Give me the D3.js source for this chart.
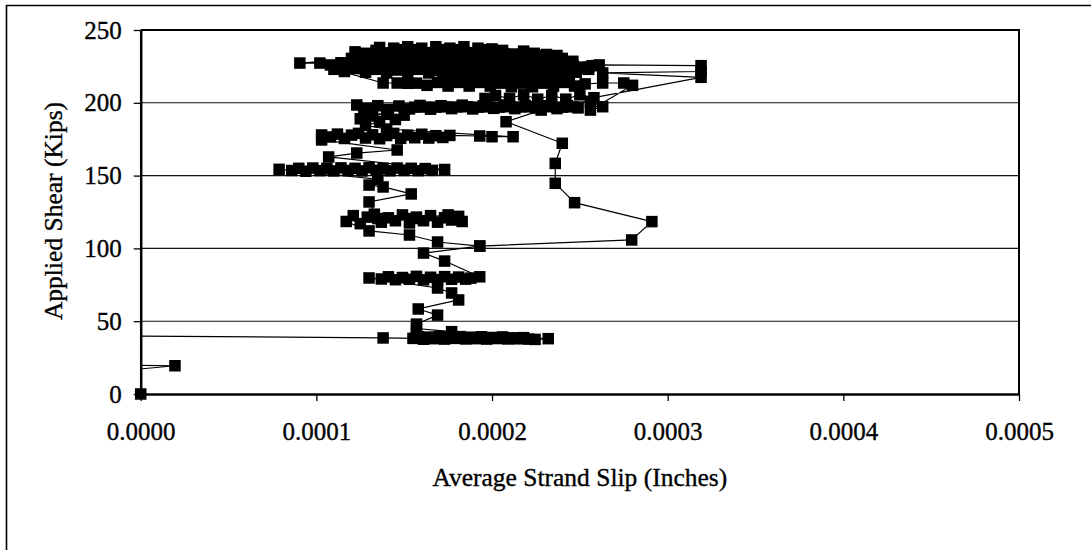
<!DOCTYPE html>
<html><head><meta charset="utf-8">
<script src="https://cdn.jsdelivr.net/npm/d3@7"></script>
<style>
body{margin:0;background:#fff}
svg{display:block}
text{font-family:"Liberation Serif","Times New Roman",serif;fill:#000;stroke:#000;stroke-width:0.35px}
</style>
</head><body>
<svg id="c" width="1091" height="550"></svg>
<script>
// ---- axis definitions ----
const xTicks=[0,0.0001,0.0002,0.0003,0.0004,0.0005];
const yTicks=[0,50,100,150,200,250];
const xTitle="Average Strand Slip (Inches)";
const yTitle="Applied Shear (Kips)";

// ---- data: [average strand slip (in), applied shear (kips)], in test order ----
const start=[[0,0],[-0.2e-4,15],[0.195e-4,19.4],[-0.2e-4,19.8],[-0.2e-4,40],[1.38e-4,38.5]];
const hold38=[[1.55e-4,38.2],[1.58e-4,39.4],[1.61e-4,37.6],[1.64e-4,39.1],[1.67e-4,38.0],[1.70e-4,39.5],[1.73e-4,37.7],[1.76e-4,38.9],[1.79e-4,38.2],[1.82e-4,39.4],[1.85e-4,37.8],[1.88e-4,39.0],[1.91e-4,38.0],[1.94e-4,39.3],[1.97e-4,37.7],[2.00e-4,38.8],[2.03e-4,38.1],[2.06e-4,39.2],[2.09e-4,37.8],[2.12e-4,38.6],[2.15e-4,37.9],[2.18e-4,38.7],[2.21e-4,37.7],[2.245e-4,37.5],[2.32e-4,38.0]];
const rise40=[[1.57e-4,41.5],[1.77e-4,42.8],[1.57e-4,45],[1.57e-4,48],[1.69e-4,54.2],[1.58e-4,58.4],[1.81e-4,64.6],[1.77e-4,69.4],[1.69e-4,72.8]];
const hold79=[[1.30e-4,79.7],[1.37e-4,79],[1.41e-4,80.5],[1.45e-4,78.5],[1.49e-4,80],[1.53e-4,78.8],[1.57e-4,80.8],[1.61e-4,78.4],[1.65e-4,80.2],[1.69e-4,78.6],[1.73e-4,80.6],[1.77e-4,78.8],[1.81e-4,80.3],[1.85e-4,78.9],[1.88e-4,79.6],[1.93e-4,80.5]];
const rise90=[[1.73e-4,91.3],[1.61e-4,96.8],[1.93e-4,101.6],[1.69e-4,104.4],[1.53e-4,109.2],[1.30e-4,112]];
const hold120=[[1.17e-4,118.5],[1.21e-4,122.5],[1.25e-4,117],[1.29e-4,121.5],[1.33e-4,123.5],[1.37e-4,118],[1.41e-4,121],[1.45e-4,119],[1.49e-4,123],[1.53e-4,117.5],[1.57e-4,121.5],[1.61e-4,119],[1.65e-4,122.5],[1.69e-4,118],[1.73e-4,121],[1.77e-4,119.5],[1.81e-4,122],[1.83e-4,118.5],[1.75e-4,123],[1.55e-4,120.5],[1.35e-4,120.5]];
const rise130=[[1.30e-4,131.9],[1.54e-4,137.4],[1.38e-4,142.2],[1.30e-4,143.5],[1.35e-4,147.5]];
const hold153=[[0.788e-4,154.3],[0.86e-4,153.5],[0.90e-4,155],[0.94e-4,153],[0.98e-4,155.2],[1.02e-4,153.4],[1.06e-4,155],[1.10e-4,153.2],[1.14e-4,155.3],[1.18e-4,153.5],[1.22e-4,155],[1.26e-4,153.2],[1.30e-4,155.4],[1.34e-4,153.6],[1.38e-4,155],[1.42e-4,153.3],[1.46e-4,155.2],[1.50e-4,153.5],[1.54e-4,155],[1.58e-4,153.4],[1.62e-4,154.8],[1.66e-4,153.6],[1.73e-4,154.2]];
const rise163=[[1.07e-4,162.8],[1.23e-4,165.5],[1.46e-4,167.6],[1.03e-4,174.5],[1.03e-4,177.9]];
const hold176=[[1.08e-4,176.5],[1.12e-4,178.5],[1.16e-4,175.5],[1.20e-4,177.8],[1.24e-4,179],[1.28e-4,175.8],[1.32e-4,178],[1.36e-4,175.3],[1.40e-4,177.5],[1.44e-4,179],[1.48e-4,175.6],[1.52e-4,177.8],[1.56e-4,176],[1.60e-4,178.4],[1.64e-4,175.8],[1.68e-4,177.4],[1.72e-4,176.2],[1.76e-4,177.6],[1.93e-4,177.2],[2.00e-4,176.7],[2.12e-4,176.7]];
const rise185=[[1.40e-4,182],[1.28e-4,184.5],[1.36e-4,187],[1.25e-4,189],[1.45e-4,188.5],[1.32e-4,191],[1.40e-4,192.5],[1.50e-4,191.5],[1.27e-4,193]];
const hold197=[[1.23e-4,198.5],[1.29e-4,196],[1.35e-4,198],[1.41e-4,195.5],[1.47e-4,197.8],[1.53e-4,195.8],[1.59e-4,198.2],[1.65e-4,195.6],[1.71e-4,198],[1.77e-4,196],[1.83e-4,198.4],[1.89e-4,195.8],[1.95e-4,198],[2.01e-4,196.2],[2.07e-4,198.5],[2.13e-4,196],[2.19e-4,198.2],[2.25e-4,196.4],[2.31e-4,198],[2.37e-4,196],[2.43e-4,198],[2.49e-4,196.5],[2.46e-4,197.2],[2.40e-4,197],[2.34e-4,197.3],[2.28e-4,197],[2.22e-4,197.2],[2.16e-4,197.1],[2.10e-4,197.3],[2.04e-4,197],[1.98e-4,197.2],[1.92e-4,197],[1.86e-4,197.3],[1.80e-4,197.1],[1.74e-4,197.2],[1.68e-4,197],[1.62e-4,197.1],[1.56e-4,197],[2.56e-4,200.8],[2.63e-4,197.3],[2.56e-4,195]];
const hold213=[[2.80e-4,212],[2.75e-4,213.6],[2.63e-4,213.6],[2.53e-4,213],[2.47e-4,211.5],[2.41e-4,214],[2.35e-4,211.5],[2.29e-4,213.5],[2.23e-4,211],[2.17e-4,213.5],[2.11e-4,211],[2.05e-4,213.5],[1.99e-4,211.5],[1.93e-4,214],[1.87e-4,211.5],[1.81e-4,214],[1.75e-4,211.5],[1.69e-4,214],[1.63e-4,212],[1.57e-4,213.5],[1.52e-4,213.4],[1.46e-4,213.6],[1.38e-4,213.6]];
const passE=[[1.10e-4,223],[1.16e-4,221.5],[1.22e-4,223.5],[1.28e-4,221],[1.34e-4,223],[1.40e-4,220.5],[1.46e-4,222.5],[1.52e-4,221],[1.58e-4,223],[1.64e-4,220.5],[1.70e-4,222.5],[1.76e-4,221],[1.82e-4,223],[1.88e-4,220.5],[1.94e-4,222.5],[2.00e-4,220.5],[2.06e-4,222.5],[2.12e-4,220.5],[2.18e-4,222],[2.24e-4,220.5],[2.30e-4,222],[2.36e-4,220.5],[2.42e-4,222.5],[2.48e-4,221],[2.55e-4,223]];
const passF=[[2.44e-4,218],[2.38e-4,216.5],[2.32e-4,218.5],[2.26e-4,217],[2.20e-4,218.5],[2.14e-4,216.5],[2.08e-4,218],[2.02e-4,216.5],[1.96e-4,218],[1.90e-4,217],[1.84e-4,218.5],[1.78e-4,217.5],[1.72e-4,218.5]];
const passG=[[1.11e-4,224.5],[1.17e-4,223.8],[1.23e-4,224.6],[1.29e-4,224],[1.35e-4,224.8],[1.41e-4,224],[1.47e-4,224.6],[1.53e-4,223.8],[1.59e-4,224.7],[1.65e-4,224],[1.71e-4,224.6],[1.77e-4,223.9],[1.83e-4,224.8],[1.89e-4,224],[1.95e-4,224.5],[2.01e-4,223.8],[2.07e-4,224.6],[2.13e-4,224],[2.19e-4,224.5],[2.25e-4,223.8],[2.31e-4,224.4],[2.37e-4,223.6],[2.43e-4,224.2],[2.49e-4,223.5],[2.55e-4,224.5]];
const passB=[[1.20e-4,230.5],[1.26e-4,229.5],[1.32e-4,232.5],[1.38e-4,230],[1.44e-4,232.5],[1.50e-4,229.5],[1.56e-4,232],[1.62e-4,230],[1.68e-4,232.5],[1.74e-4,229.5],[1.80e-4,232],[1.86e-4,230],[1.92e-4,232.5],[1.98e-4,229.5],[2.04e-4,232],[2.10e-4,230],[2.16e-4,232],[2.22e-4,229.5],[2.28e-4,231.5],[2.34e-4,229],[2.40e-4,230.5],[2.46e-4,228.5]];
const passH=[[2.37e-4,232.5],[2.31e-4,233.2],[2.25e-4,232.6],[2.19e-4,233.4],[2.13e-4,232.8],[2.07e-4,233.5],[2.01e-4,232.7],[1.95e-4,233.4],[1.89e-4,232.8],[1.83e-4,233.5],[1.77e-4,232.6],[1.71e-4,233.4],[1.65e-4,232.8],[1.59e-4,233.5],[1.53e-4,232.7],[1.47e-4,233.4],[1.41e-4,232.8],[1.35e-4,233.3],[1.29e-4,232.6],[1.23e-4,233]];
const passC=[[2.24e-4,234],[2.18e-4,235.5],[2.12e-4,233.5],[2.06e-4,236],[2.00e-4,234],[1.94e-4,236.5],[1.88e-4,234],[1.82e-4,236.5],[1.76e-4,234],[1.70e-4,236.5],[1.64e-4,234],[1.58e-4,236.5],[1.52e-4,234],[1.46e-4,236.5],[1.40e-4,234],[1.34e-4,236],[1.28e-4,234],[1.22e-4,235]];
const passD=[[1.36e-4,238],[1.44e-4,237.5],[1.52e-4,238.5],[1.60e-4,237.5],[1.68e-4,238.5],[1.76e-4,237.5],[1.84e-4,238.5],[1.92e-4,237.5],[2.00e-4,237]];
const passA=[[0.906e-4,227.3],[1.02e-4,227.3],[1.08e-4,226],[1.14e-4,227.5],[1.20e-4,225.5],[1.26e-4,228],[1.32e-4,226],[1.38e-4,228],[1.44e-4,225.5],[1.50e-4,228],[1.56e-4,226],[1.62e-4,228],[1.68e-4,225.5],[1.74e-4,228],[1.80e-4,226],[1.86e-4,228],[1.92e-4,225.5],[1.98e-4,227.5],[2.04e-4,226],[2.10e-4,227.5],[2.16e-4,225.5],[2.22e-4,227],[2.28e-4,225],[2.34e-4,226.5],[2.40e-4,225],[2.46e-4,226],[2.52e-4,224.5],[2.57e-4,225.5],[2.61e-4,226]];
const peak=[[3.19e-4,225.5],[3.19e-4,221.5],[2.63e-4,220.5],[3.19e-4,217.5]];
const hold204=[[2.58e-4,203.5],[2.50e-4,205.5],[2.42e-4,202.5],[2.34e-4,205],[2.26e-4,202.5],[2.18e-4,205.5],[2.10e-4,203],[2.02e-4,205],[1.96e-4,203]];
const branch=[[1.93e-4,101.6],[2.795e-4,105.8],[2.91e-4,118.4],[2.47e-4,131.4],[2.36e-4,144.7],[2.36e-4,158.4],[2.40e-4,172.2],[2.08e-4,187],[2.28e-4,195]];

const mainPath=[].concat(start,hold38,rise40,hold79,rise90,hold120,rise130,hold153,rise163,hold176,rise185,hold197,hold213,passE,passF,passG,passB,passH,passC,passD,passA,peak,hold204);
const paths=[mainPath,branch];

// ---- layout ----
const svg=d3.select("#c");
const M={l:140.7,r:1019,t:30,b:394};
const x=d3.scaleLinear().domain([0,0.0005]).range([M.l,M.r]);
const y=d3.scaleLinear().domain([0,250]).range([M.b,M.t]);

// outer frame (cropped at right/bottom)
svg.append("path").attr("d","M6.5,550V5.5H1091").attr("fill","none").attr("stroke","#000").attr("stroke-width",1.6);

// gridlines
svg.append("g").selectAll("line").data(yTicks.filter(d=>d>0&&d<250)).join("line")
  .attr("x1",M.l).attr("x2",M.r).attr("y1",d=>y(d)).attr("y2",d=>y(d))
  .attr("stroke","#111").attr("stroke-width",1.1);

// plot border top/right
svg.append("path").attr("d",`M${M.l},${M.t}H${M.r}V${M.b}`).attr("fill","none").attr("stroke","#000").attr("stroke-width",2);

// axes
const fmt=d3.format(".4f");
const gx=svg.append("g").attr("transform",`translate(0,${M.b})`)
  .call(d3.axisBottom(x).tickValues(xTicks).tickFormat(fmt).tickSize(7).tickSizeOuter(0).tickPadding(21));
const gy=svg.append("g").attr("transform",`translate(${M.l},0)`)
  .call(d3.axisLeft(y).tickValues(yTicks).tickSize(7).tickSizeOuter(0).tickPadding(12));
[gx,gy].forEach(g=>{
  g.select(".domain").attr("stroke","#000").attr("stroke-width",2.5);
  g.selectAll(".tick line").attr("stroke","#000").attr("stroke-width",1.3);
  g.selectAll(".tick text").attr("font-family","Liberation Serif, serif").attr("font-size",25).attr("fill","#000");
});

// titles
svg.append("text").attr("x",(M.l+M.r)/2).attr("y",486).attr("text-anchor","middle").attr("font-size",25.5).text(xTitle);
svg.append("text").attr("transform","translate(62,211) rotate(-90)").attr("text-anchor","middle").attr("font-size",25.5).text(yTitle);

// data line (clipped to plot) and markers
svg.append("clipPath").attr("id","clip").append("rect")
  .attr("x",M.l).attr("y",M.t).attr("width",M.r-M.l).attr("height",M.b-M.t);
const line=d3.line().x(d=>x(d[0])).y(d=>y(d[1]));
const gd=svg.append("g");
gd.selectAll("path").data(paths).join("path").attr("d",line)
  .attr("fill","none").attr("stroke","#000").attr("stroke-width",1.2).attr("clip-path","url(#clip)");
const S=11.5;
gd.selectAll("rect").data(mainPath.concat(branch).filter(d=>d[0]>=0)).join("rect")
  .attr("x",d=>x(d[0])-S/2).attr("y",d=>y(d[1])-S/2).attr("width",S).attr("height",S).attr("fill","#000");
</script>
</body></html>
